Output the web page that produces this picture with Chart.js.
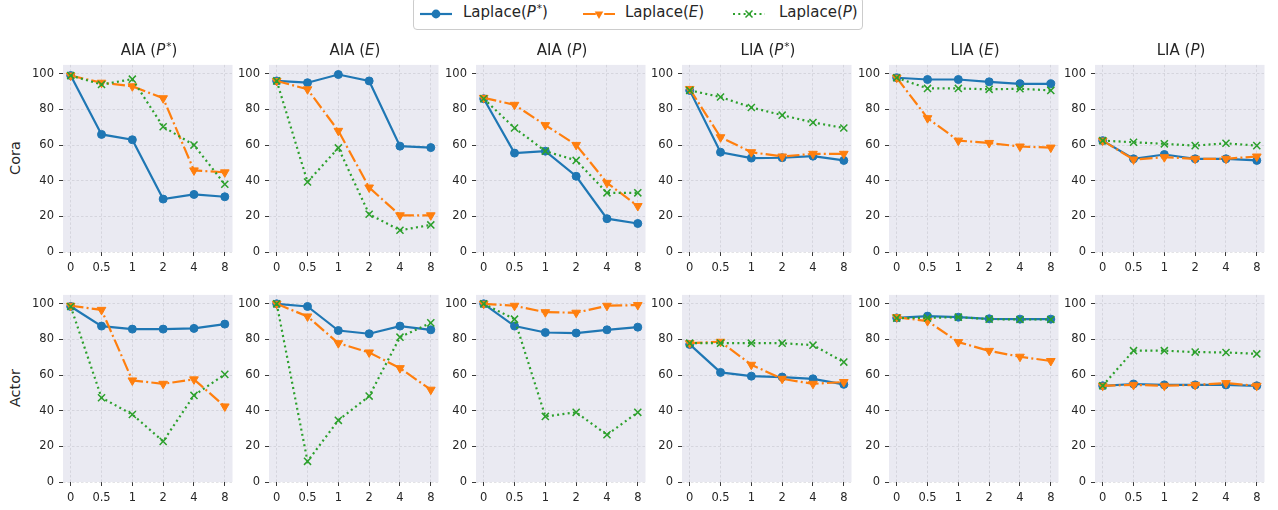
<!DOCTYPE html>
<html>
<head>
<meta charset="utf-8">
<script src="https://cdn.jsdelivr.net/npm/chart.js@4.4.1/dist/chart.umd.min.js"></script>
<style>
  body { margin: 0; width: 1278px; height: 510px; background: #fff; position: relative; overflow: hidden;
         font-family: "DejaVu Sans", sans-serif; color: #262626; }
  .panel { position: absolute; }
  .title { position: absolute; width: 172px; text-align: center; font-size: 15px; line-height: 18px; white-space: nowrap; }
  .rowlab { position: absolute; font-size: 14.5px; white-space: nowrap; transform: translate(-50%, -50%) rotate(-90deg); }
  sup { font-size: 0.7em; vertical-align: 0; position: relative; top: -0.5em; margin-left: 1px; }
  #legend { position: absolute; left: 413px; top: -3px; width: 448px; height: 31px; border: 1px solid #cccccc;
            border-radius: 4px; background: #fff; }
  .lg-icon { position: absolute; top: 6px; }
  .lg-text { position: absolute; top: 5px; font-size: 15px; line-height: 18px; white-space: nowrap; }
</style>
</head>
<body>
<div id="legend">
  <svg class="lg-icon" style="left:5px" width="34" height="20">
    <line x1="1" y1="10" x2="33" y2="10" stroke="#1f77b4" stroke-width="2.2"/>
    <circle cx="17" cy="10" r="4.4" fill="#1f77b4"/>
  </svg>
  <div class="lg-text" style="left:49px">Laplace(<i>P</i><sup>*</sup>)</div>
  <svg class="lg-icon" style="left:168px" width="34" height="20">
    <line x1="1" y1="10" x2="33" y2="10" stroke="#ff7f0e" stroke-width="2.2" stroke-dasharray="12.8 3.2 2 3.2"/>
    <polygon points="12.7,7.5 21.3,7.5 17,15" fill="#ff7f0e"/>
  </svg>
  <div class="lg-text" style="left:211px">Laplace(<i>E</i>)</div>
  <svg class="lg-icon" style="left:318px" width="34" height="20">
    <line x1="1" y1="10" x2="33" y2="10" stroke="#2ca02c" stroke-width="2.2" stroke-dasharray="2 3.3"/>
    <path d="M13.5,6.5 L20.5,13.5 M20.5,6.5 L13.5,13.5" stroke="#2ca02c" stroke-width="1.5"/>
  </svg>
  <div class="lg-text" style="left:365px">Laplace(<i>P</i>)</div>
</div>
<script>
// x values are the privacy budgets, shown as evenly spaced categories
const xLabels = ['0', '0.5', '1', '2', '4', '8'];
const yTicks = [0, 20, 40, 60, 80, 100];
const attacks = ['AIA', 'AIA', 'AIA', 'LIA', 'LIA', 'LIA'];
const targets = ['<i>P</i><sup>*</sup>', '<i>E</i>', '<i>P</i>', '<i>P</i><sup>*</sup>', '<i>E</i>', '<i>P</i>'];
const rowNames = ['Cora', 'Actor'];
const seriesNames = ['Laplace(P*)', 'Laplace(E)', 'Laplace(P)'];

// one inner array per panel, left to right
const coraPstar = [
  [99, 66, 63, 29.7, 32.3, 31],
  [96, 95, 99.6, 96, 59.4, 58.6],
  [86, 55.5, 56.6, 42.5, 18.7, 16],
  [90.7, 56, 52.7, 52.9, 53.8, 51.4],
  [97.8, 96.8, 96.8, 95.5, 94.4, 94.4],
  [62.5, 52.3, 54.7, 52.3, 52.3, 51.4]
];
const coraE = [
  [99, 95, 93, 86.3, 45.8, 44.7],
  [96, 91.3, 68, 36.2, 20.6, 20.6],
  [86.5, 82.6, 71.2, 60.1, 38.8, 25.8],
  [91.5, 64.4, 56, 53.6, 55.1, 55.1],
  [97.8, 75.1, 62.5, 61.2, 59.2, 58.6],
  [62.5, 51.9, 53.2, 52.3, 52.3, 53.6]
];
const coraP = [
  [99, 94, 97, 70.3, 60, 38],
  [96, 39.3, 58.4, 21.2, 12.2, 15.2],
  [86, 69.6, 56.6, 51.4, 33.2, 33.2],
  [90.7, 87, 81.1, 76.8, 72.7, 69.6],
  [97.8, 91.8, 91.8, 91.3, 91.6, 90.7],
  [62.5, 61.6, 60.7, 59.7, 61, 59.7]
];
const actorPstar = [
  [98.5, 87.5, 85.8, 85.8, 86.2, 88.6],
  [100, 98.5, 85, 83.2, 87.5, 85.4],
  [100, 87.5, 83.9, 83.6, 85.4, 86.9],
  [77.2, 61.5, 59.4, 58.9, 57.9, 54.8],
  [92.1, 93.1, 92.5, 91.6, 91.4, 91.4],
  [54, 55, 54.5, 54.5, 54.5, 54]
];
const actorE = [
  [98.9, 96.6, 57, 55.1, 57.6, 42.4],
  [100, 92.9, 77.9, 72.7, 63.9, 51.8],
  [100, 98.9, 95.3, 95, 98.9, 99.3],
  [77.9, 78.7, 65.8, 57.9, 55.1, 56.1],
  [92.5, 90.3, 78.5, 73.6, 70.3, 67.9],
  [54, 54.5, 54, 54.5, 55.5, 54]
];
const actorP = [
  [98.5, 47.3, 37.9, 22.8, 48.6, 60.4],
  [100, 11.6, 34.6, 48.2, 81.3, 89.3],
  [100, 91.4, 36.8, 39.1, 26.5, 39.1],
  [77.9, 77.9, 77.9, 77.9, 76.8, 67.3],
  [92, 92.1, 92.5, 91.4, 91.2, 91.2],
  [54, 73.7, 73.7, 72.9, 72.7, 71.9]
];

const rowSeries = [[coraPstar, coraE, coraP], [actorPstar, actorE, actorP]];

const lineStyles = [
  {color: '#1f77b4', dash: [], point: 'circle', rot: 0, r: 4, bw: 1, order: 3},
  {color: '#ff7f0e', dash: [12.8, 3.2, 2, 3.2], point: 'triangle', rot: 180, r: 5, bw: 1, order: 2},
  {color: '#2ca02c', dash: [2, 3.3], point: 'crossRot', rot: 0, r: 5, bw: 1.5, order: 1}
];

const plotW = 172, plotH = 189;
const yAxisW = 42, xAxisH = 28, padTop = 10, padRight = 4;
const plotTops = [63, 293];

const panelBg = {
  id: 'panelBg',
  beforeDraw(chart) {
    const {ctx, chartArea: a} = chart;
    ctx.save();
    ctx.fillStyle = '#eaeaf2';
    ctx.fillRect(a.left, a.top, a.width, a.height);
    ctx.restore();
  }
};

const tickFont = {family: '"DejaVu Sans", sans-serif', size: 11.5};
const gridOpts = {
  color: 'rgba(175,175,182,0.5)',
  lineWidth: 0.7,
  tickColor: '#3a3a3a',
  tickLength: 4,
  tickWidth: 1,
  tickBorderDash: []
};

function makePanel(row, col) {
  const plotLeft = Math.round(62.5 + col * 206.5);
  const plotTop = plotTops[row];
  const w = yAxisW + plotW + padRight, h = padTop + plotH + xAxisH;

  const div = document.createElement('div');
  div.className = 'panel';
  div.style.left = (plotLeft - yAxisW) + 'px';
  div.style.top = (plotTop - padTop) + 'px';
  const canvas = document.createElement('canvas');
  canvas.width = w;
  canvas.height = h;
  div.appendChild(canvas);
  document.body.appendChild(div);

  if (row === 0) {
    const t = document.createElement('div');
    t.className = 'title';
    t.style.left = plotLeft + 'px';
    t.style.top = '41px';
    t.innerHTML = attacks[col] + ' (' + targets[col] + ')';
    document.body.appendChild(t);
  }

  const datasets = rowSeries[row].map((series, s) => {
    const st = lineStyles[s];
    return {
      label: seriesNames[s],
      data: series[col].map((v, i) => ({x: i, y: v})),
      borderColor: st.color,
      backgroundColor: st.color,
      borderWidth: 2.2,
      borderDash: st.dash,
      pointStyle: st.point,
      pointRotation: st.rot,
      pointRadius: st.r,
      pointBorderWidth: st.bw,
      pointBackgroundColor: st.color,
      pointBorderColor: st.color,
      tension: 0,
      order: st.order
    };
  });

  new Chart(canvas, {
    type: 'line',
    data: {datasets},
    plugins: [panelBg],
    options: {
      responsive: false,
      animation: false,
      events: [],
      layout: {padding: {top: padTop, right: padRight, left: 0, bottom: 0}},
      plugins: {legend: {display: false}, tooltip: {enabled: false}},
      scales: {
        x: {
          type: 'linear',
          min: -0.25,
          max: 5.25,
          afterBuildTicks: s => { s.ticks = xLabels.map((_, i) => ({value: i})); },
          afterFit: s => { s.height = xAxisH; },
          ticks: {
            callback: v => xLabels[v],
            font: tickFont,
            color: '#262626',
            padding: 5,
            maxRotation: 0,
            autoSkip: false
          },
          grid: gridOpts,
          border: {display: false, dash: [2.5, 2]}
        },
        y: {
          min: 0,
          max: 105,
          afterBuildTicks: s => { s.ticks = yTicks.map(v => ({value: v})); },
          afterFit: s => { s.width = yAxisW; },
          ticks: {font: tickFont, color: '#262626', padding: 5},
          grid: gridOpts,
          border: {display: false, dash: [2.5, 2]}
        }
      }
    }
  });
}

rowNames.forEach((name, row) => {
  const lab = document.createElement('div');
  lab.className = 'rowlab';
  lab.style.left = '15px';
  lab.style.top = (plotTops[row] + plotH / 2) + 'px';
  lab.textContent = name;
  document.body.appendChild(lab);
  for (let col = 0; col < 6; col++) makePanel(row, col);
});
</script>
</body>
</html>
